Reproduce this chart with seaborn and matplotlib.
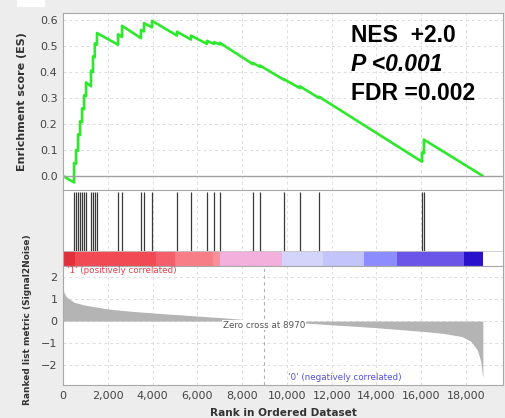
import matplotlib
matplotlib.use("agg")
import matplotlib.pyplot as plt
import matplotlib.ticker as mticker
from matplotlib.patches import Rectangle
import seaborn as sns

# Running enrichment score (vertices: before/after each hit)
es_rank = [0, 491, 491, 580, 580, 670, 670, 759, 759, 848, 848, 938, 938, 1027, 1027,
           1250, 1250, 1339, 1339, 1420, 1420, 1518, 1518, 2455, 2455, 2634, 2634,
           3482, 3482, 3616, 3616, 3973, 3973, 5089, 5089, 5714, 5714, 6429, 6429,
           6741, 6741, 7009, 7009, 8482, 8482, 8795, 8795, 9866, 9866, 10580, 10580,
           11429, 11429, 16027, 16027, 16116, 16116, 18750]
es_value = [0.0, -0.025, 0.05, 0.047, 0.10, 0.097, 0.16, 0.157, 0.21, 0.207, 0.26, 0.257, 0.31,
            0.307, 0.36, 0.345, 0.405, 0.40, 0.46, 0.457, 0.51, 0.505, 0.55, 0.505, 0.545,
            0.535, 0.578, 0.53, 0.562, 0.556, 0.588, 0.572, 0.597, 0.54, 0.555, 0.525, 0.54,
            0.508, 0.52, 0.508, 0.515, 0.506, 0.512, 0.43, 0.435, 0.42, 0.425, 0.37, 0.372,
            0.338, 0.345, 0.30, 0.305, 0.055, 0.09, 0.087, 0.14, 0.0]

# Gene set members (rank positions)
hits = [491, 580, 670, 759, 848, 938, 1027, 1250, 1339, 1420, 1518, 2455, 2634, 3482,
        3616, 3973, 5089, 5714, 6429, 6741, 7009, 8482, 8795, 9866, 10580, 11429,
        16027, 16116]

# Ranked list metric (Signal2Noise)
metric_rank = [0, 40, 150, 500, 1000, 2000, 3000, 4000, 5000, 6000, 7000, 8000, 8970,
               10000, 11000, 12000, 13000, 14000, 15000, 16000, 17000, 17800, 18200,
               18500, 18650, 18750]
metric_value = [1.6, 1.3, 1.1, 0.85, 0.72, 0.55, 0.45, 0.37, 0.3, 0.23, 0.16, 0.08, 0.0,
                -0.05, -0.1, -0.17, -0.23, -0.3, -0.38, -0.46, -0.56, -0.7, -0.9,
                -1.3, -1.8, -2.6]

# Colour bar segments
heat_edges = [0, 540, 4150, 5000, 6700, 7000, 9800, 11600, 13450, 14900, 17900, 18750]
heat_colors = ["#e0303a", "#f24a55", "#f55f6c", "#f77d86", "#f8909a", "#f4b0dc",
               "#d4d4fa", "#c4c4fc", "#8c8cff", "#6a55e8", "#2a12cc"]

zero_cross = 8970

sns.set_style("white")
plt.rcParams["font.family"] = ["DejaVu Sans"]

fig = plt.figure(figsize=(5.06, 4.18), dpi=100, facecolor="#ededed")
fig.patches.append(Rectangle((17 / 506, 1 - 7 / 418), 28 / 506, 7 / 418,
                             transform=fig.transFigure, facecolor="white",
                             edgecolor="none", zorder=0))

left, width = 63 / 506, 440 / 506
ax_es = fig.add_axes([left, 1 - 190 / 418, width, 177 / 418])
ax_hit = fig.add_axes([left, 1 - 266 / 418, width, 76 / 418])
ax_m = fig.add_axes([left, 1 - 385 / 418, width, 119 / 418])

xmax = 19650
grid_kw = dict(color="#dcdcdc", linestyle=(0, (3, 3)), linewidth=0.7)
for ax in (ax_es, ax_hit, ax_m):
    ax.set_facecolor("white")
    ax.set_xlim(0, xmax)
    ax.xaxis.set_major_locator(mticker.MultipleLocator(2000))
    ax.grid(True, **grid_kw)
    ax.set_axisbelow(True)
    for s in ax.spines.values():
        s.set_color("#a8a8a8")
        s.set_linewidth(0.8)
    ax.tick_params(length=0, labelsize=8, labelcolor="#444444", pad=4)

# Enrichment score panel
sns.lineplot(x=es_rank, y=es_value, ax=ax_es, sort=False, estimator=None,
             color="#2ee82e", linewidth=1.9)
ax_es.axhline(0, color="#a0a0a0", linewidth=1)
ax_es.set_ylim(-0.054, 0.627)
ax_es.set_yticks([0.0, 0.1, 0.2, 0.3, 0.4, 0.5, 0.6])
ax_es.yaxis.set_major_formatter(mticker.FormatStrFormatter("%.1f"))
ax_es.set_xticklabels([])
ax_es.set_ylabel("Enrichment score (ES)", fontsize=8, fontweight="bold", color="#333333")
ax_es.yaxis.set_label_coords(-0.082, 0.5)

stat_kw = dict(transform=ax_es.transAxes, family="Liberation Sans", fontsize=16.5,
               fontweight="bold", color="black")
ax_es.text(0.655, 0.836, "NES  +2.0", **stat_kw)
ax_es.text(0.655, 0.672, "P <0.001", style="italic", **stat_kw)
ax_es.text(0.655, 0.508, "FDR =0.002", **stat_kw)

# Hit panel with colour bar
ax_hit.set_ylim(0, 1)
ax_hit.set_yticks([])
ax_hit.set_xticklabels([])
ax_hit.grid(False, axis="y")
ax_hit.vlines(hits, 0.2, 0.98, color="#3a3a3a", linewidth=0.9)
for i, c in enumerate(heat_colors):
    ax_hit.barh(0.1, heat_edges[i + 1] - heat_edges[i], left=heat_edges[i], height=0.2,
                color=c, edgecolor="none")
ax_hit.axhline(0.2, color="#c8c8c8", linewidth=0.6)

# Ranked list metric panel
ax_m.fill_between(metric_rank, metric_value, 0, color="#b4b4b4", linewidth=0)
ax_m.set_ylim(-2.9, 2.5)
ax_m.set_yticks([-2, -1, 0, 1, 2])
ax_m.xaxis.set_major_formatter(mticker.StrMethodFormatter("{x:,.0f}"))
ax_m.set_xticks(range(0, 18001, 2000))
ax_m.axvline(zero_cross, color="#b0b0b0", linestyle=(0, (3, 3)), linewidth=0.8)
ax_m.text(zero_cross, -0.18, f"Zero cross at {zero_cross}", fontsize=6.3, color="#555555",
          ha="center", va="center",
          bbox=dict(facecolor="white", edgecolor="none", pad=0.5))
ax_m.text(0.009, 0.965, "'1' (positively correlated)", transform=ax_m.transAxes,
          fontsize=6.3, color="#e8404a", ha="left", va="center")
ax_m.text(0.641, 0.067, "'0' (negatively correlated)", transform=ax_m.transAxes,
          fontsize=6.3, color="#5050e0", ha="center", va="center")
ax_m.set_xlabel("Rank in Ordered Dataset", fontsize=7.6, fontweight="bold", color="#333333")
ax_m.xaxis.set_label_coords(0.5, -0.19)
ax_m.set_ylabel("Ranked list metric (Signal2Noise)", fontsize=6.5, fontweight="bold",
                color="#333333")
ax_m.yaxis.set_label_coords(-0.07, 0.55)

fig.savefig("out.png", dpi=100, facecolor=fig.get_facecolor())
